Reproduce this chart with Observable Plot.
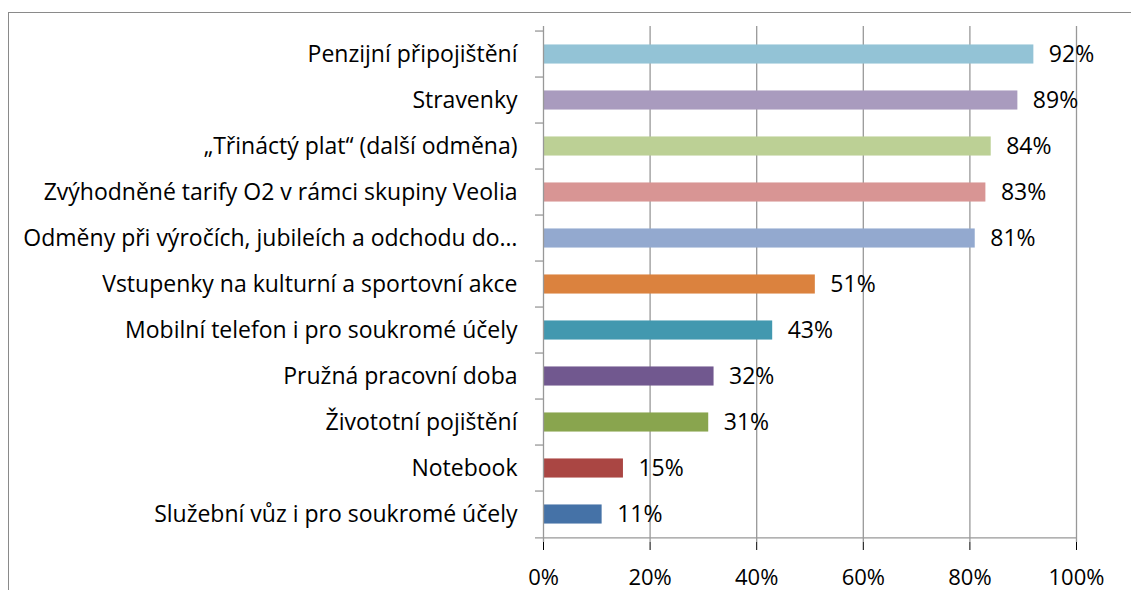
<!DOCTYPE html>
<html><head><meta charset="utf-8">
<script src="https://cdn.jsdelivr.net/npm/d3@7"></script>
<script src="https://cdn.jsdelivr.net/npm/@observablehq/plot@0.6"></script>
<style>
body{margin:0;overflow:hidden;background:#fff;width:1131px;height:590px;position:relative}
#border{position:absolute;left:8px;top:12px;width:1200px;height:700px;border-left:1.5px solid #8a8a8a;border-top:1.5px solid #8a8a8a}
#chart{position:absolute;left:0;top:0}
</style></head><body><div id="border"></div><div id="chart"></div>
<script>
const categories = [
  "Penzijní připojištění",
  "Stravenky",
  "„Třináctý plat“ (další odměna)",
  "Zvýhodněné tarify O2 v rámci skupiny Veolia",
  "Odměny při výročích, jubileích a odchodu do…",
  "Vstupenky na kulturní a sportovní akce",
  "Mobilní telefon i pro soukromé účely",
  "Pružná pracovní doba",
  "Živototní pojištění",
  "Notebook",
  "Služební vůz i pro soukromé účely"
];
const values = [0.92, 0.89, 0.84, 0.83, 0.81, 0.51, 0.43, 0.32, 0.31, 0.15, 0.11];
const colors = ["#93c3d6", "#a99bbe", "#bcd095", "#d89594", "#93a9cf", "#db823e", "#4298af", "#71588f", "#89a54e", "#aa4643", "#4572a7"];
const xTicks = [0, 0.2, 0.4, 0.6, 0.8, 1.0];

const data = categories.map((c, i) => ({category: c, value: values[i], color: colors[i]}));

const W = 1131, H = 590, mT = 26, mB = 48, mL = 543, mR = 55;
const step = (H - mT - mB) / categories.length;
const barH = 20;
const inset = (step - barH) / 2;
const tickLen = 8 / (W - mL - mR);
const grid = "#989898";
const pct = d3.format(".0%");

const chart = Plot.plot({
  width: W, height: H,
  marginTop: mT, marginBottom: mB, marginLeft: mL, marginRight: mR,
  style: {fontFamily: "'Open Sans', sans-serif", fontSize: "23px", color: "#000", background: "transparent", overflow: "visible"},
  x: {domain: [0, 1], ticks: xTicks, tickFormat: pct, tickSize: 8, tickPadding: 19, label: null},
  y: {domain: categories, padding: 0, tickSize: 0, tickPadding: 26, label: null},
  color: {type: "identity"},
  marks: [
    Plot.ruleX(xTicks.slice(1), {stroke: grid, strokeWidth: 1.3}),
    Plot.barX(data, {x: "value", y: "category", fill: "color", insetTop: inset, insetBottom: inset}),
    Plot.ruleX([0], {stroke: grid, strokeWidth: 1.3}),
    Plot.ruleY(categories, {y: d => d, x1: -tickLen, x2: 0, dy: -step / 2, stroke: grid, strokeWidth: 1.3}),
    Plot.ruleY([categories[categories.length - 1]], {y: d => d, x1: -tickLen, x2: 1, dy: step / 2, stroke: grid, strokeWidth: 1.3}),
    Plot.text(data, {x: "value", y: "category", text: d => pct(d.value), textAnchor: "start", dx: 15, fill: "#000", fontSize: 23})
  ]
});
chart.querySelectorAll("[aria-label='x-axis'] line, [aria-label='x-axis tick'] line, g[aria-label='x-axis'] path").forEach(e => e.setAttribute("stroke", grid));
chart.querySelectorAll("[aria-label='x-axis'], [aria-label='x-axis tick label']").forEach(e => e.setAttribute("font-size", "22"));
document.getElementById("chart").appendChild(chart);
</script>
</body></html>
